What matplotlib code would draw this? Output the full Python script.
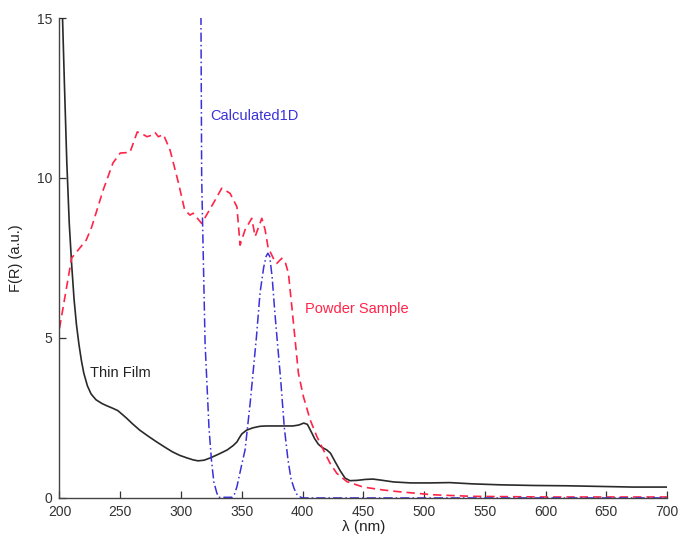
import numpy as np
import matplotlib
matplotlib.use("Agg")
import matplotlib.pyplot as plt

plt.rcParams['font.family'] = ['Liberation Sans', 'DejaVu Sans']

# Thin film spectrum
film_wl = [201, 202.5, 204, 206, 208, 210, 212, 214, 216, 218, 220, 223, 226, 230,
           235, 239, 244, 248, 252, 255, 260, 266, 273, 280, 287, 293, 299, 305,
           310, 314, 319, 324, 331, 338, 343, 346, 348, 350, 354, 359, 365, 370,
           380, 392, 397, 401, 404, 407, 410, 413, 416, 420, 423, 427, 431, 435,
           439, 445, 452, 458, 464, 475, 489, 505, 521, 540, 563, 590, 618, 645,
           672, 700]
film_fr = [17.0, 15.0, 13.0, 10.5, 8.6, 7.3, 6.2, 5.4, 4.8, 4.3, 3.9, 3.5, 3.25, 3.07,
           2.95, 2.88, 2.8, 2.73, 2.6, 2.5, 2.32, 2.12, 1.93, 1.75, 1.58, 1.44, 1.33, 1.25,
           1.19, 1.16, 1.18, 1.25, 1.37, 1.5, 1.64, 1.75, 1.88, 2.0, 2.12, 2.19, 2.24, 2.25,
           2.25, 2.25, 2.28, 2.34, 2.3, 2.08, 1.85, 1.68, 1.58, 1.5, 1.4, 1.12, 0.85, 0.62,
           0.54, 0.55, 0.58, 0.59, 0.56, 0.5, 0.47, 0.47, 0.48, 0.44, 0.41, 0.39, 0.38, 0.36,
           0.34, 0.34]

# Powder sample spectrum
powder_wl = [200, 210, 222, 226.5, 236, 244, 250, 258, 264, 268, 272, 276, 278.6, 281.4,
             285.5, 291, 298, 303, 307.4, 310, 317, 326.6, 333.5, 340.4, 346, 348.6, 352.7,
             358.2, 361, 366.5, 369.2, 372, 373.3, 377.4, 378.8, 382.9, 385.7, 388.4, 391.2,
             393.9, 396.6, 400.7, 406.3, 411.8, 417.2, 422.7, 428.2, 436.5, 450, 466, 478,
             507, 540, 600, 700]
powder_fr = [5.3, 7.5, 8.06, 8.47, 9.63, 10.47, 10.78, 10.8, 11.44, 11.38, 11.29, 11.34, 11.42, 11.29,
             11.36, 10.87, 9.83, 9.0, 8.84, 8.9, 8.58, 9.21, 9.68, 9.52, 9.1, 7.9, 8.38,
             8.74, 8.17, 8.74, 8.38, 7.75, 7.7, 7.38, 7.33, 7.49, 7.38, 7.02, 5.98,
             4.94, 3.9, 3.17, 2.44, 1.92, 1.5, 1.08, 0.77, 0.51, 0.34, 0.25, 0.2,
             0.1, 0.05, 0.03, 0.03]

# Calculated 1D model
calc_wl = [316.3, 317, 318.4, 319.8, 321.2, 323, 325, 327, 329.5, 331, 342, 344, 346,
           348, 350, 352.7, 355, 357, 360, 362, 365, 368, 370, 371.5, 373, 375, 377,
           379, 382, 385, 388, 390.5, 393, 395, 397, 400, 700]
calc_fr = [16.0, 10.0, 7.4, 4.84, 3.69, 2.2, 1.2, 0.5, 0.15, 0.02, 0.02, 0.12, 0.35,
           0.7, 1.05, 1.5, 2.3, 3.0, 4.2, 5.0, 6.4, 7.2, 7.55, 7.65, 7.55, 6.9, 5.9,
           5.0, 3.7, 2.2, 1.2, 0.6, 0.3, 0.13, 0.05, 0.0, 0.0]

x_ticks = [200, 250, 300, 350, 400, 450, 500, 550, 600, 650, 700]
y_ticks = [0, 5, 10, 15]

fig = plt.figure(figsize=(6.8, 5.46), dpi=100)
ax = fig.add_axes([0.0875, 0.088, 0.8935, 0.879])

ax.plot(film_wl, film_fr, color='#2a2a2a', lw=1.2, solid_joinstyle='round')
ax.plot(powder_wl, powder_fr, color='#ff2448', lw=1.2, ls=(0, (5, 3)))
ax.plot(calc_wl, calc_fr, color='#3a32d8', lw=1.1, ls=(0, (6, 2, 1, 2)))

ax.set_xlim(200, 700)
ax.set_ylim(0, 15)
ax.set_xticks(x_ticks)
ax.set_yticks(y_ticks)
ax.tick_params(direction='in', length=5, width=0.9, colors='#333333',
               labelsize=10, pad=5)
for side in ('top', 'right'):
    ax.spines[side].set_visible(False)
for side in ('left', 'bottom'):
    ax.spines[side].set_color('#444444')
    ax.spines[side].set_linewidth(1.0)

ax.set_xlabel('λ (nm)', fontsize=11, color='#222222', labelpad=1)
ax.set_ylabel('F(R) (a.u.)', fontsize=10.5, color='#222222', labelpad=10)

ax.text(324, 11.95, 'Calculated1D', color='#3a32d8', fontsize=10.5, va='center')
ax.text(402, 5.9, 'Powder Sample', color='#ff2448', fontsize=10.5, va='center')
ax.text(225, 3.9, 'Thin Film', color='#222222', fontsize=10.5, va='center')

fig.savefig('out.png', dpi=100)
